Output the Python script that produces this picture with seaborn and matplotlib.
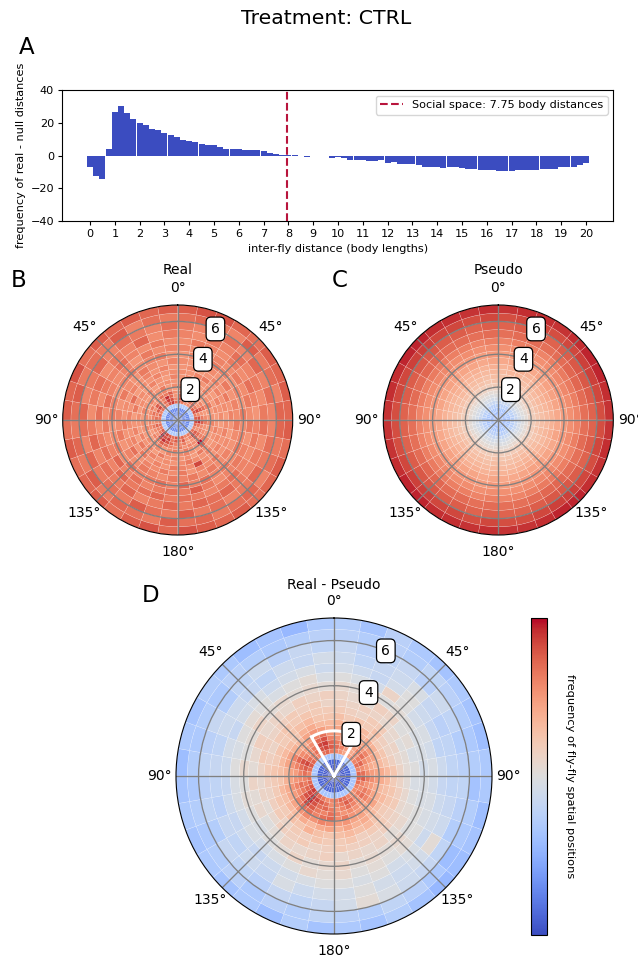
import numpy as np
import matplotlib
matplotlib.use('Agg')
import matplotlib.pyplot as plt
from matplotlib.cm import ScalarMappable
from matplotlib.colors import Normalize
import seaborn as sns

# panel A values, one row per body length
hist_bins = [i * 0.25 for i in range(81)]
hist_values = [-7, -12.5, -14.3, 3.9,
               26.3, 30, 25.7, 22,
               19.7, 18.5, 16.2, 15.4,
               13.8, 12.3, 11.2, 9.6,
               8.8, 8.2, 7, 6.4,
               6.4, 5.2, 4.1, 4,
               4, 3.4, 3.4, 3.3,
               2.8, 1.6, 0.9, 0.4,
               0.4, 0.2, -0.2, -0.8,
               -0.3, -0.4, -0.3, -1.8,
               -1, -1.7, -2.5, -3,
               -3, -3.4, -3.4, -3,
               -4.6, -3.7, -4.9, -5.4,
               -5.4, -6, -7, -7.2,
               -7.2, -7.8, -7.2, -7.2,
               -7.7, -8.3, -8.3, -8.7,
               -9, -9, -9.5, -9.2,
               -9.7, -9, -9, -9,
               -9, -8.5, -8.5, -8.3,
               -7.3, -7.3, -7.2, -6,
               -4.8]
social_space = 7.96
social_label = 'Social space: 7.75 body distances'

# radial bin edges of the polar panels, 36 sectors clockwise from 0
r_edges = [0, .25, .5, .75, 1, 1.2, 1.4, 1.6, 1.8, 2, 2.25, 2.5, 2.8, 3.1, 3.4, 3.8, 4.2, 4.6, 5, 5.5, 6, 6.5, 7]
theta_labels = ['0°', '45°', '90°', '135°', '180°', '135°', '90°', '45°']
r_ticks = [2, 4, 6]

# colour levels 0-100 on coolwarm
real_core = [8, 8, 10, 31]
real_rings = [
    [84,78,72,74,80,84,86,78,84, 88,82,76,80,84,78,76,82,80, 86,80,84,88,92,84,78,80,76, 78,82,76,80,84,76,86,90,82],
    [86,76,70,78,84,78,88,74,86, 92,78,72,84,90,76,72,84,78, 84,78,90,86,94,78,76,82,74, 80,76,84,88,74,80,90,86,76],
    [80,72,74,82,76,72,84,72,78, 84,74,76,80,84,72,70,78,74, 76,82,86,92,88,72,74,78,72, 76,80,72,84,78,76,92,82,72],
    [74,76,72,78,72,76,80,70,74, 78,72,74,76,78,74,76,72,78, 74,76,80,84,78,76,70,74,76, 72,74,78,72,74,80,78,84,74],
    [72,74,70,76,74,70,76,72,70, 74,70,72,78,96,72,74,78,72, 78,74,72,78,74,70,72,76,70, 74,72,70,76,72,74,76,72,70],
    [74,70,76,72,70,74,78,70,72, 76,72,70,74,82,70,72,76,74, 72,76,70,74,72,74,70,72,74, 70,76,72,70,74,72,78,70,74],
    [70,72,74,70,76,72,70,74,70, 72,76,72,70,74,78,70,74,72, 76,72,78,70,76,72,76,70,72, 74,70,74,72,76,70,72,74,72],
    [72,76,70,72,74,70,76,72,74, 70,72,74,72,76,72,74,78,74, 72,74,72,76,74,78,70,76,72, 70,78,72,74,70,76,72,70,76],
    [74,72,76,78,72,76,72,74,70, 74,76,72,76,72,74,88,74,76, 78,72,76,72,78,72,76,72,74, 76,72,80,70,74,72,76,72,74],
    [72,74,70,72,76,72,78,72,76, 72,70,74,72,78,74,76,72,78, 74,78,74,76,72,80,74,72,78, 72,74,72,76,72,76,72,76,72],
    [74,72,76,74,72,78,72,76,74, 78,74,72,76,74,78,74,78,76, 78,74,76,78,74,76,72,78,74, 76,72,78,74,72,78,74,72,76],
    [72,76,74,78,76,72,76,72,78, 74,76,78,74,78,76,80,76,82, 76,80,78,76,80,74,78,74,72, 78,76,72,76,78,74,76,78,72],
    [76,74,72,76,74,78,74,78,74, 78,72,76,78,76,74,78,84,78, 80,78,76,80,76,82,76,74,78, 74,80,76,74,76,72,78,74,76],
    [74,78,76,74,78,74,80,76,72, 76,78,74,76,80,78,76,78,80, 78,82,80,78,82,76,80,78,74, 80,74,78,76,80,76,74,78,74],
    [76,74,78,76,80,76,78,74,78, 80,74,78,76,78,82,80,82,78, 82,78,76,82,78,80,76,82,78, 74,78,80,74,78,76,82,74,78],
    [78,76,74,80,76,82,76,80,76, 76,80,78,82,78,76,80,78,84, 78,80,84,78,80,78,82,76,80, 82,76,78,82,76,80,78,76,80],
    [80,82,78,76,84,78,80,76,82, 82,78,80,76,82,80,78,82,80, 84,78,80,82,78,84,78,82,78, 80,84,78,80,78,84,76,80,78],
    [84,86,86,82,80,84,82,84,82, 84,80,84,82,80,84,82,84,86, 82,86,84,80,84,82,80,84,80, 84,82,86,80,84,82,84,82,84],
]

pseudo_rings = [22, 27, 32, 37, 42, 46, 49, 52, 56, 59, 62, 64, 66, 68, 71, 74, 77, 80, 84, 87, 91, 95]
pseudo_sector_shift = [0,1,1,0,1,2,2,1,0, 0,1,0,1,2,2,1,0,0, 1,0,1,1,2,2,1,0,0, 0,1,1,2,2,1,1,0,1]

diff_core = [2, 3, 6, 33]
diff_rings = [
    [80,76,72,74,78,80,84,80,86, 86,84,80,78,76,80,84,86,82, 80,78,82,86,90,94,90,86,84, 80,84,88,86,82,80,84,86,82],
    [84,80,74,70,76,82,86,78,84, 88,80,78,82,78,84,88,82,80, 78,84,88,92,96,92,86,82,80, 84,88,92,84,80,84,90,92,88],
    [82,78,72,72,80,84,78,74,78, 82,76,82,84,76,80,84,80,76, 82,86,84,90,96,90,82,84,78, 80,84,90,80,76,82,92,94,86],
    [76,72,74,70,76,80,74,70,74, 78,74,78,80,74,76,78,76,80, 84,80,82,88,92,84,78,80,76, 74,80,86,78,74,78,86,90,80],
    [74,70,72,68,72,74,72,68,72, 74,70,72,76,72,74,76,82,78, 86,84,80,84,84,80,74,76,72, 72,76,80,72,70,74,80,84,76],
    [72,66,68,66,70,68,66,66,70, 70,66,68,72,68,72,72,76,74, 78,80,76,78,76,72,70,70,68, 68,72,72,68,66,72,76,74,70],
    [68,64,62,66,62,60,62,62,66, 66,64,66,64,66,70,68,72,68, 72,70,66,70,66,66,64,66,62, 64,66,66,64,62,68,70,66,66],
    [64,60,62,60,64,58,56,58,62, 60,62,62,60,62,66,64,66,64, 62,64,68,62,64,60,62,60,60, 62,60,62,60,62,64,66,62,62],
    [60,58,56,60,60,54,56,54,56, 56,58,60,58,60,60,58,62,60, 60,62,58,60,56,60,58,56,58, 60,58,56,60,62,60,62,60,60],
    [58,56,58,56,54,54,50,52,52, 52,54,54,56,58,56,58,58,60, 58,56,60,58,58,54,52,56,54, 56,60,58,56,58,60,58,60,56],
    [56,54,52,58,56,50,52,48,50, 48,50,52,54,52,56,54,56,54, 58,56,54,56,52,50,54,52,56, 52,54,58,54,56,54,58,56,58],
    [54,52,54,50,52,50,48,48,46, 48,48,50,50,54,52,54,52,56, 54,52,56,52,50,48,50,52,50, 54,50,52,56,52,54,52,54,52],
    [50,48,46,56,50,46,48,46,48, 46,48,48,50,52,50,52,50,54, 52,54,50,48,46,48,46,48,48, 50,48,50,52,50,48,50,52,48],
    [46,44,42,46,50,44,42,40,44, 42,44,46,44,48,46,50,48,50, 50,48,46,44,42,44,42,44,42, 44,46,42,46,48,44,46,48,44],
    [44,40,42,44,48,42,38,40,40, 40,42,44,52,46,44,46,50,46, 46,44,48,42,44,40,42,38,40, 42,40,44,44,42,40,44,42,46],
    [42,38,40,42,38,44,40,36,38, 40,38,36,40,42,44,48,52,46, 42,40,42,38,40,42,36,40,38, 40,38,42,36,40,44,38,42,40],
    [38,36,38,36,40,38,36,34,36, 32,36,34,30,34,38,40,36,38, 40,36,38,34,38,36,34,36,34, 36,34,36,34,38,36,34,36,38],
    [36,32,38,34,32,34,32,30,34, 34,30,32,30,28,32,36,32,34, 32,36,30,34,32,34,32,34,32, 30,34,32,36,34,30,32,28,34],
]

W, H = 638, 960
cmap = sns.color_palette('coolwarm', as_cmap=True)
norm = Normalize(0, 100)
real_norm = Normalize(-4, 96)


def box(left, top, right, bottom):
    # pixel box of the picture to figure fractions
    return [left / W, 1 - bottom / H, (right - left) / W, (bottom - top) / H]


def polar_panel(pos, levels, title, pad, panel_norm=norm):
    ax = fig.add_axes(pos, projection='polar')
    ax.set_theta_zero_location('N')
    ax.set_theta_direction(-1)
    sector = np.radians(10)
    for i in range(len(r_edges) - 1):
        ax.bar(np.arange(36) * sector + sector / 2, r_edges[i + 1] - r_edges[i], width=sector,
               bottom=r_edges[i], color=cmap(panel_norm(levels[i])),
               edgecolor=(1, 1, 1, 0.35), linewidth=0.3)
    ax.set_ylim(0, 7)
    ax.set_xticks(np.radians(np.arange(0, 360, 45)))
    ax.set_xticklabels(theta_labels, fontsize=10)
    ax.tick_params(axis='x', pad=1.5)
    ax.set_yticks(r_ticks)
    ax.set_yticklabels([])
    ax.grid(True, color='grey', lw=0.95)
    ax.spines['polar'].set_linewidth(0.8)
    ax.set_title(title, fontsize=10, pad=pad)
    return ax


def r_labels(ax):
    # boxed radius labels sit on their ring at 22.5 degrees
    for r in r_ticks:
        ax.text(np.radians(22.5), r, str(r), fontsize=10, ha='center', va='center', zorder=6,
                bbox=dict(boxstyle='round,pad=0.35', fc='white', ec='black', lw=0.9))


fig = plt.figure(figsize=(W / 100, H / 100), dpi=100)
fig.text(326 / W, 1 - 18 / H, 'Treatment: CTRL', fontsize=14.65, ha='center', va='center')
fig.text(27 / W, 1 - 47 / H, 'A', fontsize=16.5, ha='center', va='center')
fig.text(19 / W, 1 - 280 / H, 'B', fontsize=16.5, ha='center', va='center')
fig.text(340 / W, 1 - 280 / H, 'C', fontsize=16.5, ha='center', va='center')
fig.text(151 / W, 1 - 596 / H, 'D', fontsize=16.5, ha='center', va='center')

# A
ax_a = fig.add_axes(box(62.3, 90, 613.3, 221))
sns.barplot(x=hist_bins, y=hist_values, native_scale=True, color='#3b4cc0',
            saturation=1, width=0.96, ax=ax_a)
ax_a.axvline(social_space, color='#b8143c', ls='--', lw=1.5, label=social_label)
ax_a.set_xlim(-1.12, 21.1)
ax_a.set_ylim(-40, 40)
ax_a.set_xticks(range(21))
ax_a.set_xticklabels([str(i) for i in range(21)])
ax_a.set_yticks([-40, -20, 0, 20, 40])
ax_a.tick_params(labelsize=8.1, length=3, pad=3)
ax_a.set_xlabel('inter-fly distance (body lengths)', fontsize=8.1, labelpad=3)
ax_a.set_ylabel('frequency of real - null distances', fontsize=8.1, labelpad=3)
ax_a.legend(loc='upper right', fontsize=8.1)

# B and C
real = np.array([[v] * 36 for v in real_core] + real_rings)
pseudo = np.add.outer(np.array(pseudo_rings), np.array(pseudo_sector_shift))
ax_b = polar_panel(box(62.7, 305, 292.7, 535), real, 'Real', 22.5, real_norm)
r_labels(ax_b)
ax_c = polar_panel(box(383.3, 305, 613.3, 535), pseudo, 'Pseudo', 22.5)
r_labels(ax_c)

# D
diff = np.array([[v] * 36 for v in diff_core] + diff_rings)
ax_d = polar_panel(box(176, 618, 492, 934), diff, 'Real - Pseudo', 21)
wedge = np.radians(np.linspace(-30, 30, 40))
ax_d.plot(np.r_[wedge[0], wedge, wedge[-1]], np.r_[0, [2] * 40, 0], color='white', lw=2.2,
          solid_joinstyle='miter', zorder=5)
ax_d.set_ylim(0, 7)
r_labels(ax_d)

cax = fig.add_axes(box(531, 618, 547, 935))
cbar = fig.colorbar(ScalarMappable(norm=norm, cmap=cmap), cax=cax)
cbar.set_ticks([])
cbar.set_label('frequency of fly-fly spatial positions', rotation=270, fontsize=8.2, labelpad=20)

fig.savefig('out.png', dpi=100)
